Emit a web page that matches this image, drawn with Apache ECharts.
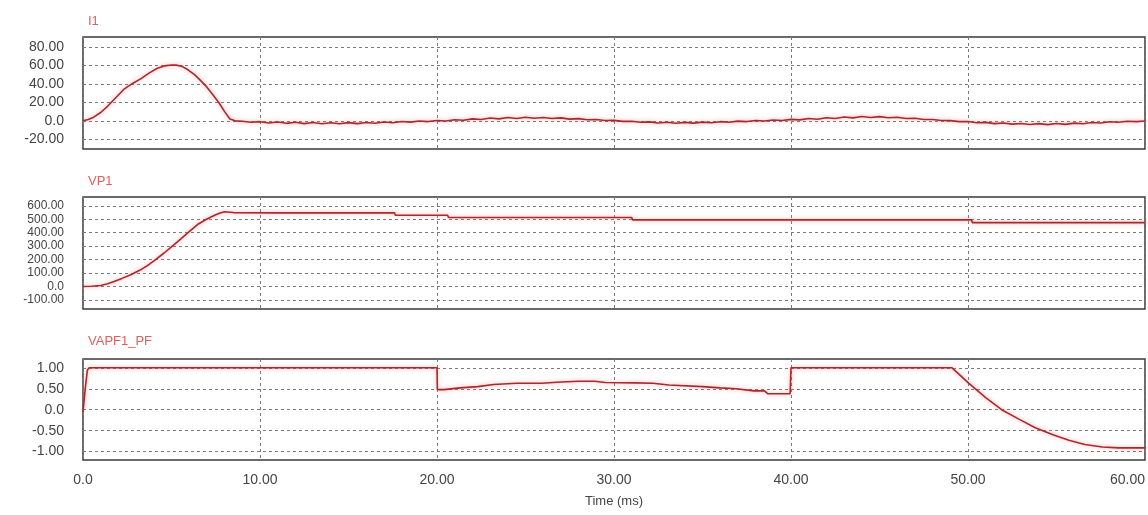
<!DOCTYPE html>
<html>
<head>
<meta charset="UTF-8">
<title>I1 / VP1 / VAPF1_PF</title>
<script src="https://cdn.jsdelivr.net/npm/echarts@6/dist/echarts.min.js"></script>
<style>
  html, body { margin: 0; padding: 0; background: #fff; }
  #chart { width: 1148px; height: 515px; }
</style>
</head>
<body>
<div id="chart"></div>
<script>
// time axis (ms)
const timeTicks = [0, 10, 20, 30, 40, 50, 60];

// I1 : start pulse, then small noisy ripple around zero
const i1Time = [0, 0.3, 0.6, 1.0, 1.4, 1.85, 2.3, 2.8, 3.3, 3.75, 4.2, 4.6, 5.0, 5.3, 5.6, 5.95,
  6.3, 6.65, 7.0, 7.35, 7.7, 8.0, 8.3, 8.6,
  9.0, 9.5, 10.0, 10.5, 11.0, 11.5, 12.0, 12.5, 13.0, 13.5, 14.0, 14.5, 15.0, 15.5, 16.0, 16.5,
  17.0, 17.5, 18.0, 18.5, 19.0, 19.5, 20.0, 20.5, 21.0, 21.5, 22.0, 22.5, 23.0, 23.5, 24.0, 24.5,
  25.0, 25.5, 26.0, 26.5, 27.0, 27.5, 28.0, 28.5, 29.0, 29.5, 30.0, 30.5, 31.0, 31.5, 32.0, 32.5,
  33.0, 33.5, 34.0, 34.5, 35.0, 35.5, 36.0, 36.5, 37.0, 37.5, 38.0, 38.5, 39.0, 39.5, 40.0, 40.5,
  41.0, 41.5, 42.0, 42.5, 43.0, 43.5, 44.0, 44.5, 45.0, 45.5, 46.0, 46.5, 47.0, 47.5, 48.0, 48.5,
  49.0, 49.5, 50.0, 50.5, 51.0, 51.5, 52.0, 52.5, 53.0, 53.5, 54.0, 54.5, 55.0, 55.5, 56.0, 56.5,
  57.0, 57.5, 58.0, 58.5, 59.0, 59.5, 60.0];
const i1Values = [0, 1.5, 4, 9, 16, 25, 34, 40.5, 46, 52, 57, 59.5, 60.5, 60.3, 59, 55,
  50, 43.5, 36.5, 28, 19, 10, 2, 0,
  -0.5, -1.6, -0.9, -2.3, -1.3, -2.7, -1.6, -3.0, -1.8, -3.1, -2.0, -3.2, -1.9, -3.0, -1.8, -2.6,
  -1.2, -2.1, -0.7, -1.4, -0.2, -0.8, 0.4, -0.1, 1.2, 0.6, 2.1, 1.4, 3.0, 2.1, 3.6, 2.6,
  3.9, 2.8, 3.7, 2.5, 3.2, 1.9, 2.4, 1.1, 1.4, 0.3, 0.5, -0.6, -0.4, -1.6, -1.1, -2.3,
  -1.5, -2.6, -1.7, -2.5, -1.4, -2.1, -0.9, -1.5, -0.3, -0.8, 0.3, -0.2, 0.9, 0.4, 1.6, 1.0,
  2.5, 1.8, 3.4, 2.6, 4.2, 3.2, 4.7, 3.6, 4.6, 3.4, 3.9, 2.6, 2.8, 1.5, 1.4, 0.3,
  0.2, -0.9, -0.8, -2.0, -1.7, -3.0, -2.4, -3.6, -2.8, -4.0, -3.0, -4.1, -2.9, -3.8, -2.5, -3.2,
  -1.8, -2.4, -1.0, -1.5, -0.4, -0.8, -0.2];
const i1Ticks = [-20, 0, 20, 40, 60, 80];

// VP1 : DC link voltage
const vpTime = [0, 0.5, 1.0, 1.4, 1.75, 2.2, 2.7, 3.2, 3.64, 4.1, 4.58, 5.05, 5.53, 6.0, 6.47,
  6.95, 7.41, 7.7, 8.0, 8.5, 11.2, 17.6, 17.65, 20.6, 20.65, 31.0, 31.05, 50.2, 50.25, 60];
const vpValues = [0, 1, 7, 20, 37, 60, 87, 120, 155, 200, 249, 301, 354, 408, 461,
  498, 528, 545, 556, 550, 548, 548, 530, 530, 513, 513, 496, 496, 475, 475];
const vpTicks = [-100, 0, 100, 200, 300, 400, 500, 600];

// VAPF1_PF : power factor
const pfTime = [0, 0.15, 0.25, 0.35, 20.0, 20.02, 20.4, 21.3, 22.3, 23.2, 24.5, 25.9, 27.0, 28.0,
  28.9, 29.5, 31.2, 32.2, 33.1, 35.0, 36.0, 36.9, 37.9, 38.5, 38.7, 39.95, 40.0, 49.1, 50.05,
  51.0, 51.9, 52.9, 53.8, 54.8, 55.7, 56.6, 57.6, 58.5, 60];
const pfValues = [-0.05, 0.6, 0.95, 1.0, 1.0, 0.48, 0.48, 0.52, 0.55, 0.6, 0.63, 0.63, 0.66, 0.68,
  0.68, 0.65, 0.64, 0.63, 0.59, 0.55, 0.52, 0.5, 0.45, 0.45, 0.38, 0.38, 1.0, 1.0, 0.63,
  0.29, 0.0, -0.23, -0.43, -0.6, -0.73, -0.83, -0.89, -0.91, -0.91];
const pfTicks = [-1, -0.5, 0, 0.5, 1];

const titles = ['I1', 'VP1', 'VAPF1_PF'];

function zip(ts, vs) { return ts.map((t, i) => [t, vs[i]]); }
function fmt(v) { return v === 0 ? '0.0' : v.toFixed(2); }

const font = 'Arial, "Liberation Sans", sans-serif';
const gridLine = { show: true, lineStyle: { color: '#7a7a7a', type: [3, 3], width: 1 } };

const grids = [
  { left: 83, right: 3, top: 37, height: 112 },
  { left: 83, right: 3, top: 197, height: 112 },
  { left: 83, right: 3, top: 359, height: 101 }
].map(g => Object.assign(g, { show: true, borderColor: '#3a3a3a', borderWidth: 1.5 }));

const xAxes = [0, 1, 2].map(i => ({
  type: 'value', gridIndex: i, min: 0, max: 60, interval: 10,
  axisLine: { show: false }, axisTick: { show: false },
  splitLine: gridLine,
  axisLabel: {
    show: i === 2, formatter: fmt, color: '#444', fontSize: 14, fontFamily: font,
    margin: 13, alignMaxLabel: 'right'
  },
  name: i === 2 ? 'Time (ms)' : '', nameLocation: 'middle', nameGap: 35,
  nameTextStyle: { color: '#444', fontSize: 13, fontFamily: font }
}));

// the VP1 panel packs 8 labels into a short axis, so its labels are a bit smaller
function yAxis(i, min, max, ticks, size) {
  return {
    type: 'value', gridIndex: i, min: min, max: max,
    axisLine: { show: false },
    axisTick: { show: false, customValues: ticks },
    splitLine: gridLine,
    axisLabel: {
      customValues: ticks, formatter: fmt, color: '#444', fontSize: size,
      fontFamily: font, margin: 19, hideOverlap: false
    }
  };
}

const lineStyle = {
  color: '#a82a2e', width: 1.6,
  shadowColor: 'rgba(240,120,120,0.7)', shadowBlur: 4
};

function series(i, ts, vs) {
  return {
    type: 'line', xAxisIndex: i, yAxisIndex: i, data: zip(ts, vs),
    showSymbol: false, symbol: 'none', lineStyle: lineStyle, animation: false
  };
}

const chart = echarts.init(document.getElementById('chart'));
chart.setOption({
  backgroundColor: '#fff',
  animation: false,
  title: titles.map((t, i) => ({
    text: t, left: 83, top: [10, 170, 330][i],
    textStyle: { color: '#e0605e', fontSize: 13, fontWeight: 'normal', fontFamily: font }
  })),
  grid: grids,
  xAxis: xAxes,
  yAxis: [
    yAxis(0, -30.5, 90.8, i1Ticks, 14),
    yAxis(1, -168, 666, vpTicks, 12),
    yAxis(2, -1.2, 1.21, pfTicks, 14)
  ],
  series: [
    series(0, i1Time, i1Values),
    series(1, vpTime, vpValues),
    series(2, pfTime, pfValues)
  ]
});
</script>
</body>
</html>
